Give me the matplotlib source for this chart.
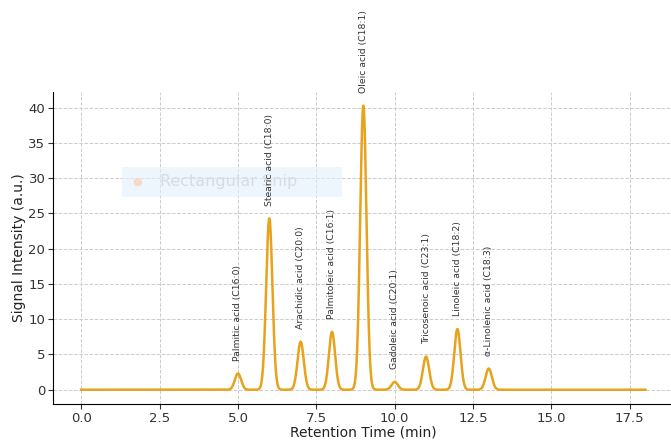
import numpy as np
import matplotlib.pyplot as plt
from matplotlib.patches import Rectangle

# Fatty acid peaks: retention time (min) and peak height (a.u.)
acids = ['Palmitic acid (C16:0)', 'Stearic acid (C18:0)', 'Arachidic acid (C20:0)',
         'Palmitoleic acid (C16:1)', 'Oleic acid (C18:1)', 'Gadoleic acid (C20:1)',
         'Tricosenoic acid (C23:1)', 'Linoleic acid (C18:2)', 'α-Linolenic acid (C18:3)']
retention = [5.0, 6.0, 7.0, 8.0, 9.0, 10.0, 11.0, 12.0, 13.0]
heights = [2.3, 24.3, 6.8, 8.2, 40.3, 1.1, 4.7, 8.6, 3.0]
peak_width = 0.1

t = np.linspace(0, 18, 2000)
signal = np.zeros_like(t)
for rt, h in zip(retention, heights):
    signal += h * np.exp(-0.5 * ((t - rt) / peak_width) ** 2)

fig = plt.figure(figsize=(6.71, 4.4), dpi=100)
ax = fig.add_axes([0.079, 0.082, 0.925, 0.71])

ax.plot(t, signal, color='#E8A21C', lw=1.8, zorder=3)
for name, rt, h in zip(acids, retention, heights):
    ax.text(rt, h + 1.8, name, rotation=90, ha='center', va='bottom',
            fontsize=6.7, color='#333333', zorder=4)

ax.grid(True, linestyle='--', color='#cccccc', linewidth=0.7)
ax.set_axisbelow(True)
ax.spines['top'].set_visible(False)
ax.spines['right'].set_visible(False)
ax.set_xlabel('Retention Time (min)', fontsize=10, labelpad=1, color='#222222')
ax.set_ylabel('Signal Intensity (a.u.)', fontsize=10, labelpad=2, color='#222222')
ax.tick_params(labelsize=9.5, colors='#333333', pad=2)

# snipping-tool overlay, kept under the peak labels
box = Rectangle((0.182, 0.553), 0.328, 0.068, transform=fig.transFigure,
                facecolor='#E4F0FC', edgecolor='none', alpha=0.6, zorder=1,
                clip_on=False)
ax.add_patch(box)
ax.text(0.204, 0.587, '●', transform=fig.transFigure, color='#F6D9C8',
        fontsize=8, ha='center', va='center', zorder=2)
ax.text(0.238, 0.587, 'Rectangular Snip', transform=fig.transFigure,
        color='#D6DCE3', fontsize=11.5, ha='left', va='center', zorder=2)

fig.savefig('out.png', dpi=100)
